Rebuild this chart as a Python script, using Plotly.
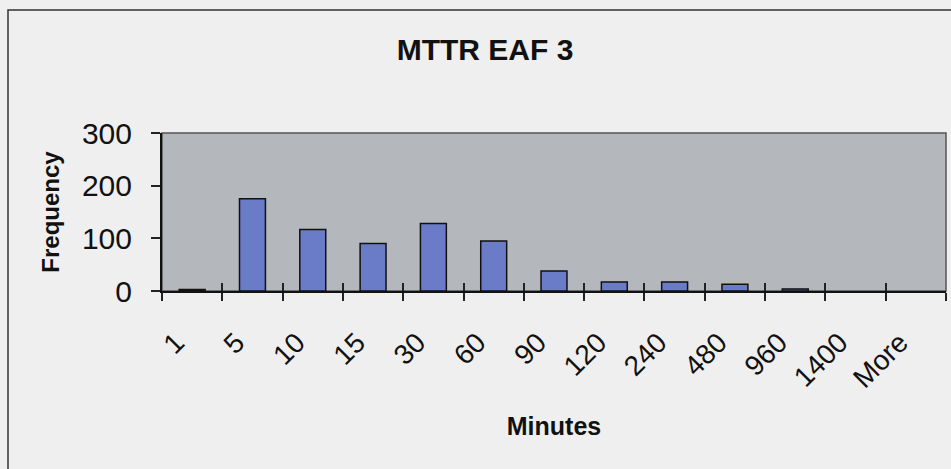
import plotly.graph_objects as go

categories = ["1", "5", "10", "15", "30", "60", "90", "120", "240", "480", "960", "1400", "More"]
frequency = [3, 175, 117, 90, 128, 95, 38, 17, 17, 13, 4, 0, 0]
y_ticks = [0, 100, 200, 300]

FONT = "Liberation Sans, Arial, sans-serif"
W, H = 951, 469
ML, MR, MT, MB = 162, 5, 133, 178
PW, PH = W - ML - MR, H - MT - MB

outline_widths = [1.5 if v > 0 else 0 for v in frequency]

fig = go.Figure()
fig.add_trace(go.Bar(
    x=categories, y=frequency, width=0.43,
    marker=dict(color="#6a7bc8", line=dict(color="#111111", width=outline_widths)),
    showlegend=False, hoverinfo="x+y",
))
# dummy trace so the inner-tick axis is drawn
fig.add_trace(go.Scatter(x=categories, y=[None] * len(categories), xaxis="x2",
                         showlegend=False, hoverinfo="skip", mode="markers"))

axis_font = dict(family=FONT, size=28, color="#111111")

fig.update_layout(
    width=W, height=H,
    margin=dict(l=ML, r=MR, t=MT, b=MB, pad=0),
    paper_bgcolor="#efefef",
    plot_bgcolor="#b4b7bc",
    title=dict(text="<b>MTTR EAF 3</b>", x=485 / W, xanchor="center",
               y=1 - 49 / H, yanchor="middle",
               font=dict(family=FONT, size=30, color="#111111")),
    xaxis=dict(
        type="category", categoryorder="array", categoryarray=categories,
        range=[-0.5, len(categories) - 0.5],
        showline=True, linecolor="#111111", linewidth=2,
        ticks="outside", ticklen=8, tickwidth=1.5, tickcolor="#222222",
        tickson="boundaries", tickangle=-45,
        ticklabelshift=-16, ticklabelstandoff=22,
        tickfont=axis_font, showgrid=False, zeroline=False,
        title=dict(text="<b>Minutes</b>", standoff=25,
                   font=dict(family=FONT, size=25, color="#111111")),
    ),
    xaxis2=dict(
        type="category", categoryorder="array", categoryarray=categories,
        matches="x", overlaying="x", anchor="y", side="bottom",
        showline=False, ticks="inside", ticklen=8, tickwidth=1.5, tickcolor="#222222",
        tickson="boundaries", showticklabels=False, showgrid=False, zeroline=False,
    ),
    yaxis=dict(
        range=[0, 300], tickvals=y_ticks,
        showline=True, linecolor="#111111", linewidth=2,
        ticks="outside", ticklen=9, tickwidth=1.5, tickcolor="#222222",
        ticklabelstandoff=13,
        tickfont=dict(family=FONT, size=30, color="#111111"),
        showgrid=False, zeroline=False,
        title=dict(text="<b>Frequency</b>", standoff=16,
                   font=dict(family=FONT, size=24, color="#111111")),
    ),
    shapes=[
        # plot area border
        dict(type="rect", xref="paper", yref="paper", x0=0, x1=1, y0=0, y1=1,
             line=dict(color="#555555", width=1.5), layer="below"),
        # outer chart frame
        dict(type="rect", xref="paper", yref="paper",
             x0=(8 - ML) / PW, x1=(W + 10 - ML) / PW,
             y0=-(H + 10 - MT - PH) / PH, y1=1 + (MT - 10) / PH,
             line=dict(color="#333333", width=1.5), layer="above"),
    ],
)

fig.write_html("out.html")
